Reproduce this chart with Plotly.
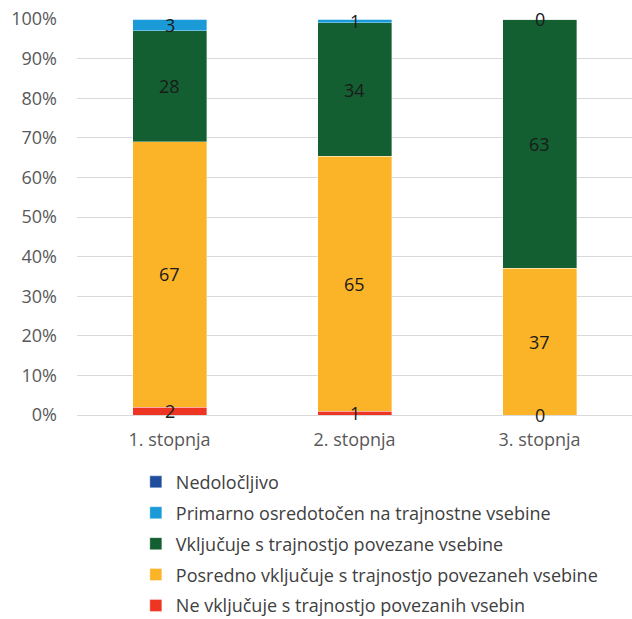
import plotly.graph_objects as go

categories = ["1. stopnja", "2. stopnja", "3. stopnja"]

series_names = [
    "Ne vključuje s trajnostjo povezanih vsebin",
    "Posredno vključuje s trajnostjo povezaneh vsebine",
    "Vključuje s trajnostjo povezane vsebine",
    "Primarno osredotočen na trajnostne vsebine",
    "Nedoločljivo",
]
ne_vkljucuje = [2, 1, 0]
posredno = [67, 65, 37]
vkljucuje = [28, 34, 63]
primarno = [3, 1, 0]
nedolocljivo = [0, 0, 0]
show_labels = [True, True, True, True, False]

tick_values = [0, 10, 20, 30, 40, 50, 60, 70, 80, 90, 100]
tick_labels = [f"{v}%" for v in tick_values]

series_values = [ne_vkljucuje, posredno, vkljucuje, primarno, nedolocljivo]
colors = ["#EE3524", "#FBB427", "#135F31", "#1A9AD7", "#1F4E9E"]

FONT = "Open Sans"

fig = go.Figure()
n = len(series_names)
for i, (name, vals, col) in enumerate(zip(series_names, series_values, colors)):
    fig.add_trace(go.Bar(
        x=categories, y=vals, name=name, legendgroup=f"g{i}",
        legendrank=n - i,
        marker=dict(color=col, line=dict(color="rgba(255,255,255,0.6)", width=0.6)),
        width=0.4,
    ))

# data labels centred on each normalised segment
totals = [sum(s[j] for s in series_values) for j in range(len(categories))]
annotations = []
for j, cat in enumerate(categories):
    base = 0.0
    for vals, show in zip(series_values, show_labels):
        share = 100.0 * vals[j] / totals[j]
        if show:
            annotations.append(dict(
                x=cat, y=base + share / 2, text=str(vals[j]), showarrow=False,
                font=dict(family=FONT, size=18, color="#1a1a1a"),
                xref="x", yref="y",
            ))
        base += share

fig.update_layout(
    barmode="stack", barnorm="percent",
    width=632, height=619,
    margin=dict(l=77, r=0, t=19, b=204),
    plot_bgcolor="white", paper_bgcolor="white",
    font=dict(family=FONT, size=18, color="#595959"),
    annotations=annotations,
    showlegend=True,
    legend=dict(
        orientation="v", traceorder="grouped",
        x=0.106, xanchor="left", xref="paper",
        y=0.251, yanchor="top", yref="container",
        font=dict(family=FONT, size=18, color="#404040"),
        tracegroupgap=4.5, itemwidth=30,
    ),
)
fig.update_yaxes(
    range=[0, 100], tickmode="array", tickvals=tick_values, ticktext=tick_labels,
    showgrid=True, gridcolor="#D9D9D9", gridwidth=1,
    zeroline=False, showline=False, ticks="", ticklabelstandoff=19,
    tickfont=dict(family=FONT, size=18, color="#595959"),
)
fig.update_xaxes(
    showline=True, linecolor="#D9D9D9", linewidth=1, ticks="",
    ticklabelstandoff=8,
    tickfont=dict(family=FONT, size=18, color="#595959"),
)

fig.write_html("out.html", config={"displayModeBar": False},
               post_script="document.body.style.margin='0';document.body.style.overflow='hidden';")
